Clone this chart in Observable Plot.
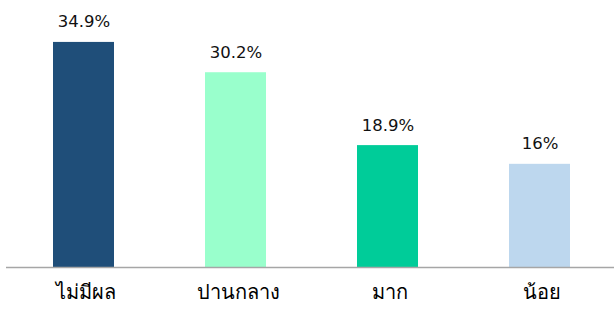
<!DOCTYPE html>
<html>
<head>
<meta charset="utf-8">
<script src="https://cdn.jsdelivr.net/npm/d3@7"></script>
<script src="https://cdn.jsdelivr.net/npm/@observablehq/plot@0.6"></script>
<style>
  html, body { margin: 0; padding: 0; background: #fff; }
  #chart svg { display: block; }
</style>
</head>
<body>
<div id="chart"></div>
<script>
const categories = ["ไม่มีผล", "ปานกลาง", "มาก", "น้อย"];
const values = [34.9, 30.2, 18.9, 16];
const labels = ["34.9%", "30.2%", "18.9%", "16%"];
const colors = ["#1f4e79", "#99ffcc", "#00cc99", "#bdd7ee"];

const data = categories.map((c, i) => ({cat: c, value: values[i], label: labels[i], color: colors[i]}));

const chart = Plot.plot({
  width: 614,
  height: 313,
  marginTop: 0,
  marginBottom: 46,
  marginLeft: 6,
  marginRight: 0,
  style: {fontFamily: "'DejaVu Sans', 'Noto Sans', sans-serif", color: "#000", background: "#fff"},
  x: {domain: categories, range: [6, 616], paddingInner: 0.6, paddingOuter: 0.294, label: null, axis: null},
  y: {domain: [0, 41.4], axis: null},
  marks: [
    Plot.barY(data, {x: "cat", y: "value", fill: "color"}),
    Plot.ruleY([0], {stroke: "#a6a6a6", strokeWidth: 1.5}),
    Plot.text(data, {x: "cat", y: "value", text: "label", lineAnchor: "bottom", dy: -15, fontSize: 16.5, fill: "#111"}),
    Plot.text(data, {x: "cat", y: 0, text: "cat", lineAnchor: "bottom", dy: 31, dx: 2, fontSize: 20, fill: "#000"})
  ]
});
document.getElementById("chart").append(chart);
</script>
</body>
</html>
